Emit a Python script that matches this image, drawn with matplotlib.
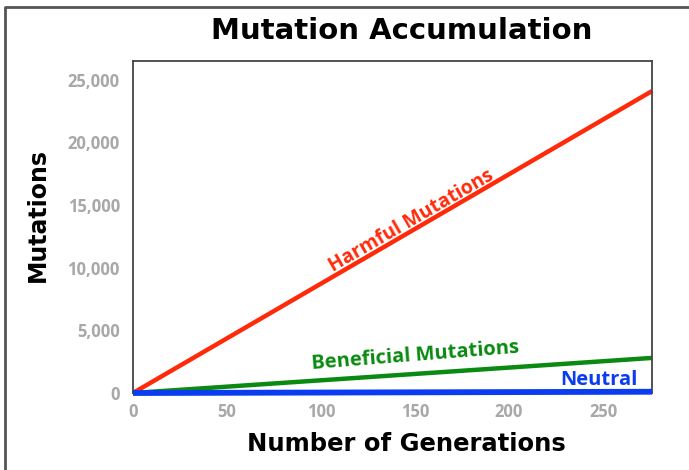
import numpy as np
import matplotlib.pyplot as plt
from matplotlib.lines import Line2D

plt.rcParams['font.family'] = ['Open Sans', 'DejaVu Sans']

# generations and accumulated mutation counts
generations = [0, 276]
harmful = [0, 24100]
beneficial = [0, 2800]
neutral = [0, 100]

x_ticks = [0, 50, 100, 150, 200, 250]
y_ticks = [0, 5000, 10000, 15000, 20000, 25000]
y_tick_labels = ['0', '5,000', '10,000', '15,000', '20,000', '25,000']

fig = plt.figure(figsize=(6.89, 4.70), dpi=100)
ax = fig.add_axes([133 / 689, 1 - 393 / 470, (652 - 133) / 689, (393 - 61) / 470])

ax.plot(generations, harmful, color='#ff2a0a', lw=3.2, solid_capstyle='butt', clip_on=False)
ax.plot(generations, beneficial, color='#0a8a10', lw=3.2, solid_capstyle='butt', clip_on=False)
ax.plot(generations, neutral, color='#0a3cf0', lw=4.2, solid_capstyle='butt', clip_on=False, zorder=3)

ax.set_xlim(0, 276)
ax.set_ylim(0, 26500)
ax.set_xticks(x_ticks)
ax.set_yticks(y_ticks)
ax.set_yticklabels(y_tick_labels)
ax.tick_params(length=0, labelsize=12, labelcolor='#a8a8a8')
ax.tick_params(axis='y', pad=9.5)
ax.tick_params(axis='x', pad=7)
for lab in ax.get_xticklabels() + ax.get_yticklabels():
    lab.set_fontweight('bold')
for sp in ax.spines.values():
    sp.set_color('#444444')
    sp.set_linewidth(1.3)

ax.text(148, 13700, 'Harmful Mutations', color='#ff2a0a', fontsize=14, fontweight='bold',
        rotation=30, ha='center', va='center', rotation_mode='anchor')
ax.text(150, 2950, 'Beneficial Mutations', color='#0a8a10', fontsize=14.5, fontweight='bold',
        rotation=4.5, ha='center', va='center', rotation_mode='anchor')
ax.text(248, 1050, 'Neutral', color='#0a3cf0', fontsize=14.5, fontweight='bold',
        ha='center', va='center')

fig.text(402 / 689, 1 - 31 / 470, 'Mutation Accumulation', fontsize=21, fontweight='bold',
         family='DejaVu Sans', ha='center', va='center')
fig.text(406 / 689, 1 - 444 / 470, 'Number of Generations', fontsize=17.5, fontweight='bold',
         family='DejaVu Sans', ha='center', va='center')
fig.text(38 / 689, 1 - 215 / 470, 'Mutations', fontsize=17, fontweight='bold',
         family='DejaVu Sans', rotation=90, ha='center', va='center')

# outer frame (left and top edges)
fig.add_artist(Line2D([4.5 / 689, 4.5 / 689, 1], [0, 1 - 7 / 470, 1 - 7 / 470],
                      color='#555555', lw=2, transform=fig.transFigure))

fig.savefig('out.png', dpi=100)
